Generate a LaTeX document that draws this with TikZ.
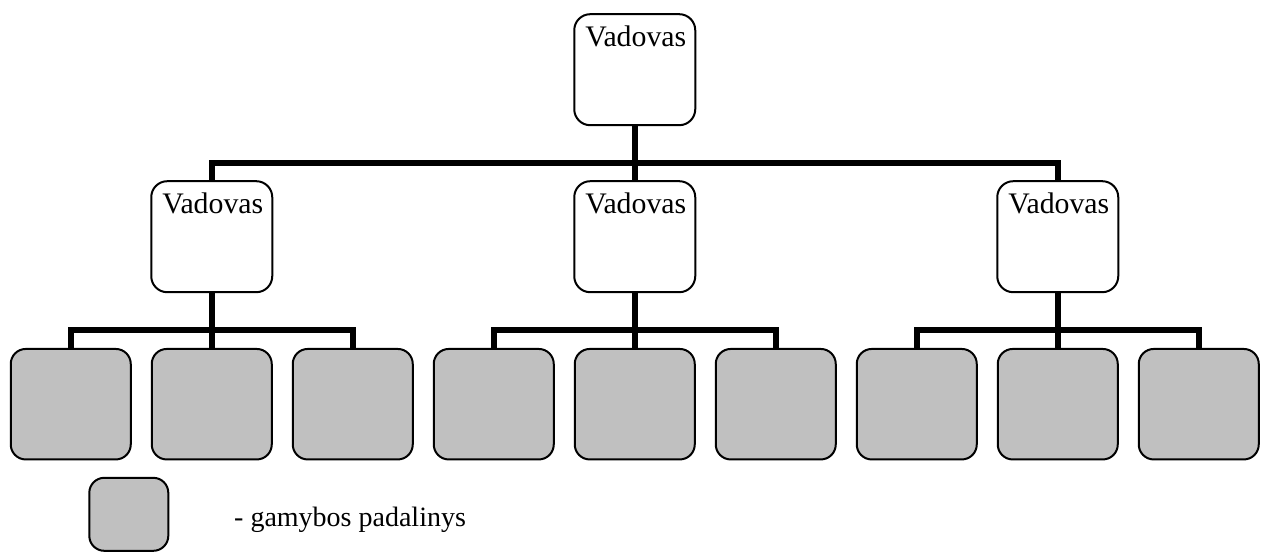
\documentclass[tikz,border=0pt]{standalone}
\usepackage{fontspec}
\setmainfont{Liberation Serif}
\begin{document}
\begin{tikzpicture}[x=1pt,y=-1pt,
  mgr/.style={draw=black, line width=2pt, rounded corners=16pt, fill=white,
    minimum width=121pt, minimum height=111pt, inner sep=0pt},
  unit/.style={draw=black, line width=2pt, rounded corners=15pt,
    fill={rgb,255:red,192;green,192;blue,192},
    minimum width=120pt, minimum height=110.5pt, inner sep=0pt},
  conn/.style={line width=6pt, draw=black},
  lbl/.style={anchor=base, inner sep=0pt, font=\fontsize{29.8}{36}\selectfont},
  leglbl/.style={anchor=base west, inner sep=0pt, font=\fontsize{28}{34}\selectfont}]
\useasboundingbox (0,0) rectangle (1268,552);

% top manager
\node[mgr] (top) at (634.75,69.7) {};
\node[lbl] (toplbl) at ([xshift=1pt,yshift=-33.6pt]top.north) {Vadovas};

% middle managers
\node[mgr] (m1) at (211.75,236.7) {};
\node[mgr] (m2) at (634.75,236.7) {};
\node[mgr] (m3) at (1057.75,236.7) {};
\node[lbl] (m1lbl) at ([xshift=1pt,yshift=-33.6pt]m1.north) {Vadovas};
\node[lbl] (m2lbl) at ([xshift=1pt,yshift=-33.6pt]m2.north) {Vadovas};
\node[lbl] (m3lbl) at ([xshift=1pt,yshift=-33.6pt]m3.north) {Vadovas};

% production units
\foreach \i in {0,...,8} {
  \node[unit] (u\i) at (70.75+141*\i,404.2) {};
}

% connectors top level
\coordinate (b0) at (634.75,163);
\draw[conn] (top.south) -- (m2.north);
\draw[conn] (m1.north) |- (b0) -| (m3.north);

% connectors lower level
\coordinate (c1) at (211.75,329.5);
\coordinate (c2) at (634.75,329.5);
\coordinate (c3) at (1057.75,329.5);
\draw[conn] (m1.south) -- (u1.north);
\draw[conn] (u0.north) |- (c1) -| (u2.north);
\draw[conn] (m2.south) -- (u4.north);
\draw[conn] (u3.north) |- (c2) -| (u5.north);
\draw[conn] (m3.south) -- (u7.north);
\draw[conn] (u6.north) |- (c3) -| (u8.north);

% legend
\node[unit, minimum width=79pt, minimum height=73pt] (leg) at (128.8,514.3) {};
\node[leglbl] (legtxt) at (234,526) {- gamybos padalinys};
\end{tikzpicture}
\end{document}
